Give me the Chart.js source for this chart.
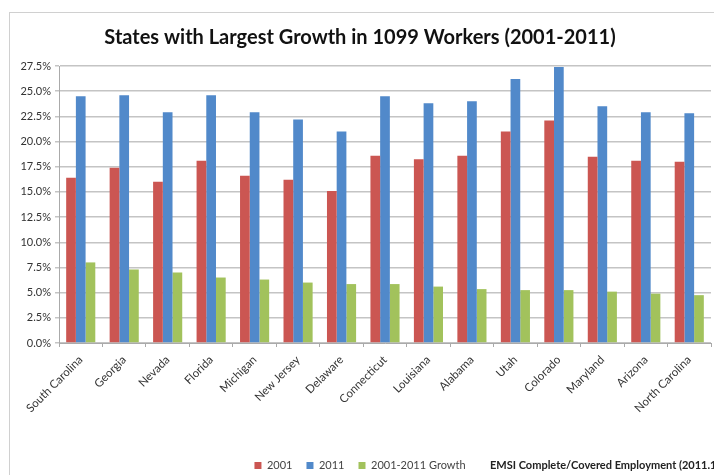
<!DOCTYPE html>
<html>
<head>
<meta charset="utf-8">
<script src="https://cdn.jsdelivr.net/npm/chart.js@4/dist/chart.umd.min.js"></script>
<style>
  html, body { margin: 0; padding: 0; background: #fff; }
  #wrap { width: 714px; height: 475px; position: relative; }
</style>
</head>
<body>
<div id="wrap"><canvas id="c" width="714" height="475"></canvas></div>
<script>
const states = ["South Carolina","Georgia","Nevada","Florida","Michigan","New Jersey","Delaware","Connecticut","Louisiana","Alabama","Utah","Colorado","Maryland","Arizona","North Carolina"];
const share2001 = [16.4,17.4,16.0,18.1,16.6,16.2,15.1,18.6,18.25,18.6,21.0,22.1,18.5,18.1,18.0];
const share2011 = [24.5,24.6,22.9,24.6,22.9,22.2,21.0,24.5,23.8,24.0,26.2,27.4,23.5,22.9,22.8];
const growth = [8.0,7.3,7.0,6.5,6.3,6.0,5.85,5.85,5.6,5.35,5.25,5.25,5.1,4.9,4.75];
const seriesNames = ["2001","2011","2001-2011 Growth"];
const titleText = "States with Largest Growth in 1099 Workers (2001-2011)";
const sourceText = "EMSI Complete/Covered Employment (2011.1)";

const frame = {
  id: 'frame',
  beforeDraw(chart) {
    const ctx = chart.ctx;
    ctx.save();
    ctx.fillStyle = '#fff';
    ctx.fillRect(0, 0, chart.width, chart.height);
    ctx.strokeStyle = '#d0d0d0';
    ctx.lineWidth = 1;
    ctx.strokeRect(9.5, 12.5, 900, 600);
    ctx.restore();
  },
  afterDraw(chart) {
    const ctx = chart.ctx;
    ctx.save();
    ctx.font = 'bold 11px Lato, "Open Sans", sans-serif';
    ctx.fillStyle = '#222';
    ctx.textBaseline = 'middle';
    ctx.fillText(sourceText, 490, 465);
    ctx.restore();
  }
};

new Chart(document.getElementById('c'), {
  type: 'bar',
  data: {
    labels: states,
    datasets: [
      { label: seriesNames[0], data: share2001, backgroundColor: '#CB5652' },
      { label: seriesNames[1], data: share2011, backgroundColor: '#5189CA' },
      { label: seriesNames[2], data: growth, backgroundColor: '#A2C25C' }
    ]
  },
  options: {
    responsive: false,
    animation: false,
    devicePixelRatio: 1,
    layout: { padding: { left: 9, right: 3, top: 20, bottom: -6 } },
    datasets: { bar: { categoryPercentage: 0.67, barPercentage: 1.0 } },
    plugins: {
      title: {
        display: true,
        text: titleText,
        font: { family: 'Lato, "Open Sans", sans-serif', size: 20, weight: 'bold' },
        color: '#111',
        padding: { top: 6, bottom: 16 }
      },
      legend: {
        position: 'bottom',
        align: 'center',
        labels: {
          boxWidth: 7, boxHeight: 7,
          font: { family: 'Lato, "Open Sans", sans-serif', size: 11 },
          color: '#444',
          padding: 14
        }
      },
      tooltip: { enabled: false }
    },
    scales: {
      x: {
        grid: { display: true, drawOnChartArea: false, drawTicks: true, tickLength: 4, color: '#aaa', offset: true },
        border: { color: '#aaa', width: 1 },
        ticks: {
          minRotation: 45, maxRotation: 45, autoSkip: false,
          font: { family: 'Lato, "Open Sans", sans-serif', size: 11.5 },
          color: '#333', padding: 6
        },
        afterFit(s) { s.height = 103; }
      },
      y: {
        min: 0, max: 27.5,
        grid: { color: '#c4c4c4', lineWidth: 1.5, tickLength: 4 },
        border: { color: '#aaa', width: 1 },
        ticks: {
          stepSize: 2.5,
          callback: v => v.toFixed(1) + '%',
          font: { family: 'Lato, "Open Sans", sans-serif', size: 11 },
          color: '#333', padding: 4
        },
        afterFit(s) { s.width = 50; }
      }
    }
  },
  plugins: [frame]
});
</script>
</body>
</html>
